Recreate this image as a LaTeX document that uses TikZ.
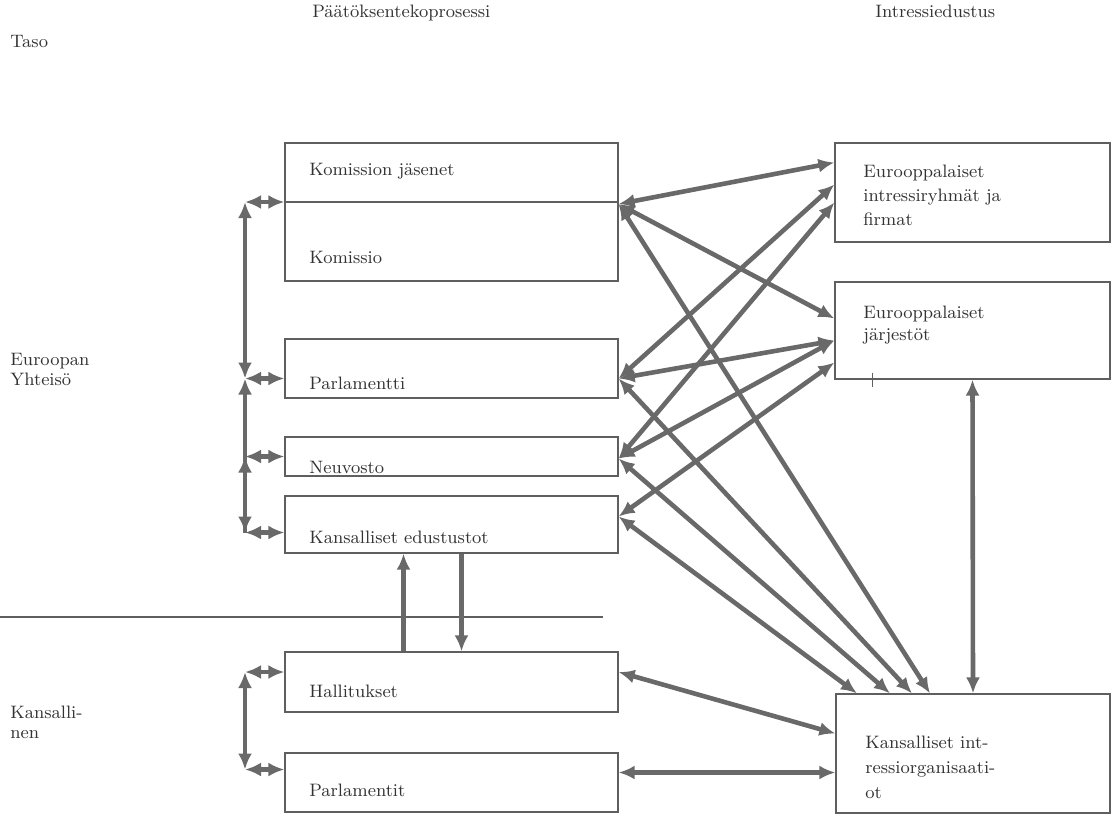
\documentclass[tikz,border=0pt]{standalone}
\usepackage{tikz}
\usetikzlibrary{arrows.meta,fit,calc}

\definecolor{linegray}{RGB}{105,105,105}
\definecolor{boxgray}{RGB}{95,95,95}
\definecolor{textgray}{RGB}{50,50,50}

\begin{document}
\begin{tikzpicture}[x=0.5pt,y=-0.5pt,
  box/.style={draw=boxgray, line width=0.6pt, inner sep=0pt},
  lbl/.style={anchor=base west, inner sep=0pt, align=left, text=textgray,
    font=\fontsize{9}{12}\selectfont},
  link/.style={draw=linegray, line width=2.3pt,
    {Latex[length=8pt,width=7pt]}-{Latex[length=8pt,width=7pt]}},
  onearrow/.style={draw=linegray, line width=2.3pt, -{Latex[length=8pt,width=7pt]}}]
\useasboundingbox (0,0) rectangle (1113,816);

% Nodes
\node[box, fit={(285,143) (618,281)}] (kom) {};
\node[box, fit={(285,339) (618,398)}] (parl) {};
\node[box, fit={(285,437) (618,476)}] (neuv) {};
\node[box, fit={(285,496) (618,553)}] (ked) {};
\node[box, fit={(285,652) (618,712)}] (hall) {};
\node[box, fit={(285,753) (618,812)}] (parlt) {};
\node[box, fit={(835,143) (1110,242)}] (eir) {};
\node[box, fit={(835,282) (1110,379)}] (ejar) {};
\node[box, fit={(836,694) (1110,813)}] (kio) {};

\draw[boxgray, line width=0.6pt] ($(kom.west)+(0,-10)$) -- ($(kom.east)+(0,-10)$);
\draw[boxgray, line width=0.6pt] ($(ejar.south west)+(38,-7)$) -- ++(0,14);
\draw[boxgray, line width=0.6pt] (0,617) -- (603,617);

% left bus
\coordinate (bk) at (245,202);
\coordinate (bp) at (245,378.5);
\coordinate (bn) at (245,456.5);
\coordinate (be) at (245,532.5);
\coordinate (bh) at (245,672);
\coordinate (bt) at (245,769.5);
\draw[link] (bk) -- (bp);
\draw[link] (bp) -- (be);
\draw[onearrow] (be) -- (bn);
\draw[link] (bh) -- (bt);
\foreach \b/\n in {bk/kom,bp/parl,bn/neuv,be/ked,bh/hall,bt/parlt}
  \draw[link] (\b) -- (\b -| \n.west);

% edges between the two columns
\draw[link] ($(kom.east)+(0,-8)$) -- ($(eir.west)+(0,-30)$);
\draw[link] ($(kom.east)+(0,-8)$) -- ($(ejar.west)+(0,-12)$);
\draw[link] ($(kom.east)+(0,-8)$) -- ($(kio.north)+(-43,0)$);
\draw[link] ($(parl.east)+(0,10)$) -- ($(eir.west)+(0,-8)$);
\draw[link] ($(parl.east)+(0,10)$) -- ($(ejar.west)+(0,10)$);
\draw[link] ($(parl.east)+(0,10)$) -- ($(kio.north)+(-61,0)$);
\draw[link] ($(neuv.east)+(0,2)$) -- ($(eir.west)+(0,10)$);
\draw[link] ($(neuv.east)+(0,2)$) -- ($(ejar.west)+(0,10)$);
\draw[link] ($(neuv.east)+(0,2)$) -- ($(kio.north)+(-83,0)$);
\draw[link] ($(ked.east)+(0,-8)$) -- ($(ejar.west)+(0,32)$);
\draw[link] ($(ked.east)+(0,-8)$) -- ($(kio.north)+(-116,0)$);
\draw[link] ($(hall.east)+(0,-10)$) -- ($(kio.west)+(0,-20)$);
\draw[link] ($(parlt.east)+(0,-10)$) -- ($(kio.west)+(0,19)$);
\draw[link] (ejar.south) -- (kio.north);
%
\draw[onearrow] ($(hall.north)+(-48,0)$) -- ($(ked.south)+(-48,0)$);
\draw[onearrow] ($(ked.south)+(10,0)$) -- ($(hall.north)+(10,0)$);

% texts
\node[lbl] (taso) at (10,47) {Taso};
\node[lbl] (proc) at (312,17) {Päätöksentekoprosessi};
\node[lbl] (intr) at (875,17) {Intressiedustus};
\node[lbl, font=\fontsize{9}{10}\selectfont] (ey) at (10,385) {Euroopan\\Yhteisö};
\node[lbl, font=\fontsize{9}{10}\selectfont] (kans) at (10,738) {Kansalli-\\nen};
\node[lbl] (kom-j) at (309,175) {Komission jäsenet};
\node[lbl] (kom-t) at (309,263) {Komissio};
\node[lbl] (parl-t) at (309,389) {Parlamentti};
\node[lbl] (neuv-t) at (309,473) {Neuvosto};
\node[lbl] (ked-t) at (309,543) {Kansalliset edustustot};
\node[lbl] (hall-t) at (309,697) {Hallitukset};
\node[lbl] (parlt-t) at (309,796) {Parlamentit};
\node[lbl] (eir-t) at (863,225) {Eurooppalaiset\\intressiryhmät ja\\firmat};
\node[lbl, font=\fontsize{9}{11}\selectfont] (ejar-t) at (863,340) {Eurooppalaiset\\järjestöt};
\node[lbl, font=\fontsize{9}{12.5}\selectfont] (kio-t) at (865,798) {Kansalliset int-\\ressiorganisaati-\\ot};
\end{tikzpicture}
\end{document}
